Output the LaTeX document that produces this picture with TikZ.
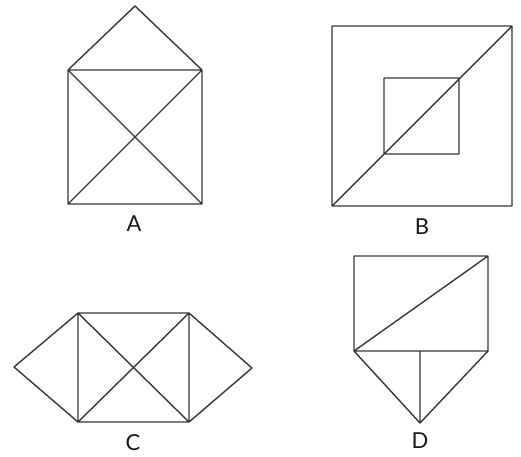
\documentclass[tikz,border=0pt]{standalone}
\usepackage{fontspec}
\setmainfont{Lato}
\begin{document}
\begin{tikzpicture}[x=1pt,y=-1pt,
  fig/.style={draw=black!78,line width=1.4pt,line join=round},
  lbl/.style={font=\fontsize{22}{22}\selectfont,text=black!90,inner sep=0pt}]
\useasboundingbox (0,0) rectangle (521,456);
% A
\coordinate (a1) at (68,70); \coordinate (a2) at (202,70);
\coordinate (a3) at (202,204); \coordinate (a4) at (68,204);
\coordinate (a5) at (135,6);
\draw[fig] (a1)--(a2)--(a3)--(a4)--cycle (a1)--(a3) (a2)--(a4) (a1)--(a5)--(a2);
\node[lbl] (la) at (134,224) {A};
% B
\coordinate (b1) at (332,26); \coordinate (b2) at (512,26);
\coordinate (b3) at (512,206); \coordinate (b4) at (332,206);
\coordinate (b5) at (384,78); \coordinate (b6) at (459,78);
\coordinate (b7) at (459,154); \coordinate (b8) at (384,154);
\draw[fig] (b1)--(b2)--(b3)--(b4)--cycle (b5)--(b6)--(b7)--(b8)--cycle (b4)--(b2);
\node[lbl] (lb) at (422,227) {B};
% C
\coordinate (c1) at (78,313); \coordinate (c2) at (189,313);
\coordinate (c3) at (189,422); \coordinate (c4) at (78,422);
\coordinate (c5) at (14,367); \coordinate (c6) at (252,368);
\draw[fig] (c1)--(c2)--(c3)--(c4)--cycle (c1)--(c3) (c2)--(c4) (c1)--(c5)--(c4) (c2)--(c6)--(c3);
\node[lbl] (lc) at (133,443) {C};
% D
\coordinate (d1) at (354,256); \coordinate (d2) at (488,256);
\coordinate (d3) at (488,351); \coordinate (d4) at (354,351);
\coordinate (d5) at (420,423); \coordinate (d6) at (420,351);
\draw[fig] (d1)--(d2)--(d3)--(d4)--cycle (d4)--(d2) (d4)--(d5)--(d3) (d6)--(d5);
\node[lbl] (ld) at (420,441) {D};
\end{tikzpicture}
\end{document}
